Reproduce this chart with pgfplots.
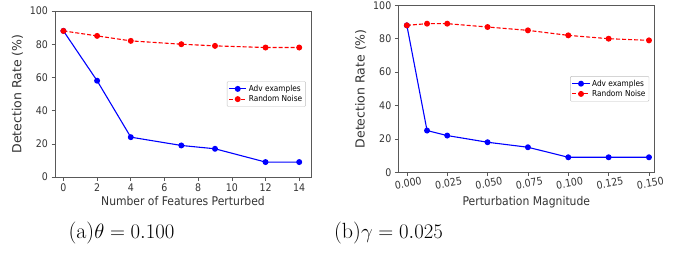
\documentclass[border=0pt]{standalone}
\usepackage{pgfplots}
\pgfplotsset{compat=1.18}
\usepackage{fontspec}
\newfontfamily\dejavu[FakeStretch=0.9]{DejaVu Sans}
\newfontfamily\dejavuy{DejaVu Sans}
\begin{document}
\begin{tikzpicture}
\path[use as bounding box] (0,0) rectangle (684pt,255pt);
\pgfplotsset{
  every axis/.append style={
    scale only axis,
    font=\dejavu\fontsize{10}{12}\selectfont,
    /pgf/number format/assume math mode=true,
    axis line style={black!65, line width=0.6pt},
    tick style={black!65, line width=0.6pt},
    tick align=outside,
    major tick length=3.5pt,
    xtick pos=bottom, ytick pos=left,
    ymin=0, ymax=100,
    ytick={0,20,40,60,80,100},
    ticklabel style={text=black!80, font=\dejavu\fontsize{10.5}{12}\selectfont},
    xlabel style={text=black!80, font=\dejavu\fontsize{12}{14}\selectfont},
    ylabel style={text=black!80, font=\dejavuy\fontsize{12.5}{14}\selectfont},
    legend style={font=\dejavu\fontsize{8.2}{9}\selectfont, draw=black!25, rounded corners=1pt,
      at={(0.98,0.5)}, anchor=east, inner sep=1.5pt, row sep=-1.5pt},
    legend cell align=left,
  },
  advstyle/.style={blue, line width=1.1pt, mark=*, mark size=2.4pt, mark options={solid, fill=blue}},
  noisestyle/.style={red, line width=1.1pt, dashed, dash pattern=on 4pt off 2pt, mark=*, mark size=2.4pt, mark options={solid, fill=red}},
}
\begin{axis}[
  at={(55pt,78pt)}, anchor=south west,
  width=256pt, height=166pt,
  xmin=-0.5, xmax=14.7,
  xtick={0,2,4,6,8,10,12,14},
  xlabel={Number of Features Perturbed},
  ylabel={Detection Rate (\%)},
  xlabel style={yshift=2pt},
]
\addplot[advstyle] coordinates {(0,88) (2,58) (4,24) (7,19) (9,17) (12,9) (14,9)};
\addlegendentry{Adv examples}
\addplot[noisestyle] coordinates {(0,88) (2,85) (4,82) (7,80) (9,79) (12,78) (14,78)};
\addlegendentry{Random Noise}
\end{axis}
\begin{axis}[
  at={(398.3pt,82.7pt)}, anchor=south west,
  width=256pt, height=167pt,
  xmin=-0.0053, xmax=0.1533,
  xtick={0,0.025,0.05,0.075,0.1,0.125,0.15},
  xticklabel style={/pgf/number format/fixed, /pgf/number format/precision=3, /pgf/number format/fixed zerofill, rotate=10, anchor=north},
  scaled x ticks=false,
  xlabel={Perturbation Magnitude},
  ylabel={Detection Rate (\%)},
]
\addplot[advstyle] coordinates {(0,88) (0.0125,25) (0.025,22) (0.05,18) (0.075,15) (0.1,9) (0.125,9) (0.15,9)};
\addlegendentry{Adv examples}
\addplot[noisestyle] coordinates {(0,88) (0.0125,89) (0.025,89) (0.05,87) (0.075,85) (0.1,82) (0.125,80) (0.15,79)};
\addlegendentry{Random Noise}
\end{axis}
\node[font=\fontsize{22}{26}\selectfont] at (121.5pt,22pt) {(a)$\theta = 0.100$};
\node[font=\fontsize{22}{26}\selectfont] at (388.5pt,22pt) {(b)$\gamma = 0.025$};
\end{tikzpicture}
\end{document}
